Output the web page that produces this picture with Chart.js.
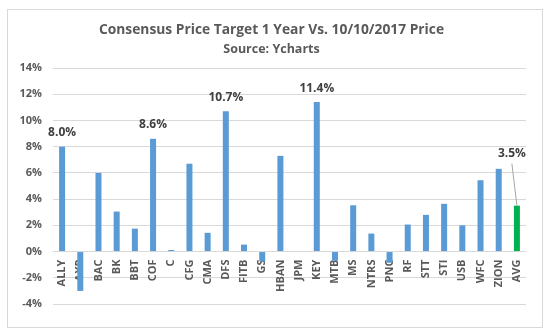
<!DOCTYPE html>
<html>
<head>
<meta charset="utf-8">
<script src="https://cdn.jsdelivr.net/npm/chart.js@4/dist/chart.umd.min.js"></script>
<style>
  html, body { margin: 0; padding: 0; background: #fff; }
</style>
</head>
<body>
<canvas id="chart" width="558" height="335"></canvas>
<script>
// tickers along the x axis
const tickers = ["ALLY","AXP","BAC","BK","BBT","COF","C","CFG","CMA","DFS","FITB","GS","HBAN","JPM","KEY","MTB","MS","NTRS","PNC","RF","STT","STI","USB","WFC","ZION","AVG"];
// upside of consensus target vs price, in %
const upside = [8.0,-3.0,6.0,3.05,1.75,8.6,0.12,6.7,1.43,10.7,0.53,-0.75,7.3,0,11.4,-0.7,3.53,1.37,-0.86,2.06,2.8,3.64,2.0,5.44,6.31,3.5];
// bars that carry a value label
const labeled = ["ALLY","COF","DFS","KEY","AVG"];
const yTicks = [-4,-2,0,2,4,6,8,10,12,14];

const barColors = tickers.map(t => t === 'AVG' ? '#00B050' : '#5B9BD5');
const fontFamily = "'Open Sans', 'Liberation Sans', sans-serif";

const decor = {
  id: 'decor',
  beforeDraw(chart) {
    const c = chart.ctx;
    c.save();
    c.fillStyle = '#fff';
    c.fillRect(0, 0, chart.width, chart.height);
    c.strokeStyle = '#d9d9d9';
    c.lineWidth = 1;
    c.strokeRect(7.5, 9.5, 535, 318);
    c.restore();
  },
  afterDatasetsDraw(chart) {
    const c = chart.ctx;
    const meta = chart.getDatasetMeta(0);
    c.save();
    c.font = 'bold 12px ' + fontFamily;
    c.fillStyle = '#404040';
    c.textAlign = 'center';
    c.textBaseline = 'middle';
    labeled.forEach(t => {
      const i = tickers.indexOf(t);
      const bar = meta.data[i];
      const txt = upside[i].toFixed(1) + '%';
      if (t === 'AVG') {
        // label pulled up and left with a leader line
        c.fillText(txt, bar.x - 5, bar.y - 52);
        c.strokeStyle = '#a6a6a6';
        c.lineWidth = 1;
        c.beginPath();
        c.moveTo(bar.x - 5, bar.y - 42);
        c.lineTo(bar.x, bar.y);
        c.stroke();
      } else {
        c.fillText(txt, bar.x, bar.y - 14);
      }
    });
    c.restore();
  }
};

new Chart(document.getElementById('chart').getContext('2d'), {
  type: 'bar',
  data: {
    labels: tickers,
    datasets: [{
      data: upside,
      backgroundColor: barColors,
      barPercentage: 0.33,
      categoryPercentage: 1
    }]
  },
  options: {
    responsive: false,
    animation: false,
    layout: { padding: { left: 17, right: 32, top: 0, bottom: 31 } },
    plugins: {
      legend: { display: false },
      tooltip: { enabled: false },
      title: {
        display: true,
        text: 'Consensus Price Target 1 Year Vs. 10/10/2017 Price',
        color: '#595959',
        font: { family: fontFamily, size: 13.8, weight: 'bold', lineHeight: 1 },
        padding: { top: 23, bottom: 6.4 }
      },
      subtitle: {
        display: true,
        text: 'Source: Ycharts',
        color: '#595959',
        font: { family: fontFamily, size: 12.5, weight: 'bold', lineHeight: 1 },
        padding: { top: 0, bottom: 12.3 }
      }
    },
    scales: {
      x: {
        position: { y: 0 },
        grid: { display: false, drawTicks: false },
        border: { display: false },
        ticks: {
          color: '#595959',
          font: { family: fontFamily, size: 11, weight: 'bold' },
          minRotation: 90,
          maxRotation: 90,
          padding: 8,
          autoSkip: false
        }
      },
      y: {
        min: -4,
        max: 14,
        afterFit(scale) { scale.width = 36; },
        afterBuildTicks(scale) { scale.ticks = yTicks.map(v => ({ value: v })); },
        grid: { color: '#d9d9d9', drawTicks: false },
        border: { display: false },
        ticks: {
          color: '#595959',
          font: { family: fontFamily, size: 11, weight: 'bold' },
          padding: 11,
          callback: v => v + '%'
        }
      }
    }
  },
  plugins: [decor]
});
</script>
</body>
</html>
